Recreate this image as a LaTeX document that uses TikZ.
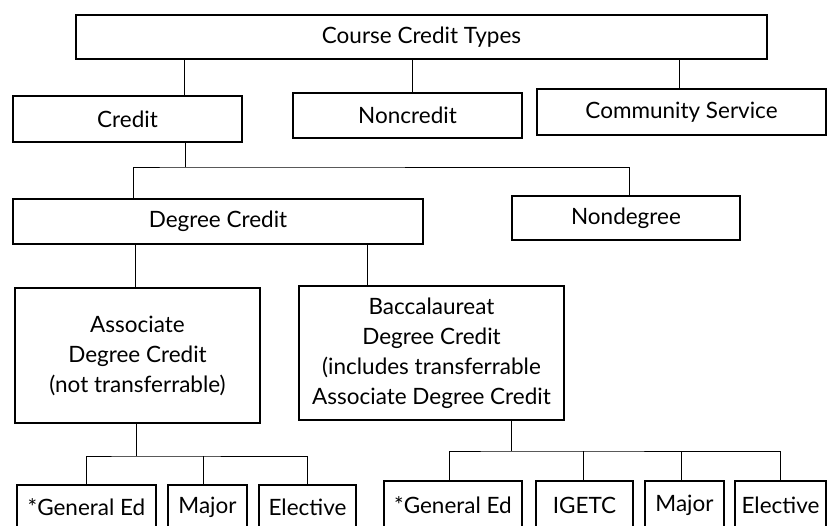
\documentclass[tikz,border=0pt]{standalone}
\usepackage{fontspec}
\setmainfont{Lato}
\begin{document}
\begin{tikzpicture}[x=1pt,y=-1pt,
  box/.style={draw, line width=1.5pt, inner sep=0pt, align=center,
    font=\fontsize{22.5}{30}\selectfont},
  link/.style={line width=0.9pt}]
\useasboundingbox (0,0) rectangle (828,526);
\clip (0,0) rectangle (828,526);
% level 0
\node[box, minimum width=691pt, minimum height=44pt] (top) at (421.5,37) {Course Credit Types};
% level 1
\node[box, minimum width=229pt, minimum height=46pt] (credit) at (127.5,119) {Credit};
\node[box, minimum width=229pt, minimum height=45pt] (noncredit) at (407.5,115.5) {Noncredit};
\node[box, minimum width=289pt, minimum height=46pt] (community) at (681.5,112) {Community Service};
% level 2
\node[box, minimum width=410pt, minimum height=45pt] (degree) at (218,221.5) {Degree Credit};
\node[box, minimum width=228pt, minimum height=44pt] (nondegree) at (626,218) {Nondegree};
% level 3
\node[box, minimum width=245pt, minimum height=135pt] (assoc) at (137.5,355.5)
  {Associate\\Degree Credit\\(not transferrable)};
\node[box, minimum width=265pt, minimum height=134pt] (bacc) at (431.5,353)
  {Baccalaureat\\Degree Credit\\(includes transferrable\\Associate Degree Credit};
% level 4 left
\node[box, minimum width=139pt, minimum height=45pt] (genA) at (86.5,507.5) {*General Ed};
\node[box, minimum width=79pt, minimum height=45pt] (majA) at (207.5,507.5) {Major};
\node[box, minimum width=97pt, minimum height=45pt] (elecA) at (307.5,507.5) {Elective};
% level 4 right
\node[box, minimum width=138pt, minimum height=48pt] (genB) at (453,505) {*General Ed};
\node[box, minimum width=97pt, minimum height=48pt] (igetc) at (584.5,505) {IGETC};
\node[box, minimum width=79pt, minimum height=48pt] (majB) at (684.5,505) {Major};
\node[box, minimum width=91pt, minimum height=48pt] (elecB) at (780.5,505) {Elective};
% junctions
\coordinate (j1) at (185,167);
\coordinate (j2) at (136,456);
\coordinate (j3) at (511,451);
% connectors level 0 -> 1
\draw[link] ([xshift=56.5pt]credit.north) -- ([xshift=56.5pt]credit.north |- top.south);
\draw[link] ([xshift=4.5pt]noncredit.north) -- ([xshift=4.5pt]noncredit.north |- top.south);
\draw[link] ([xshift=-2.5pt]community.north) -- ([xshift=-2.5pt]community.north |- top.south);
% credit -> degree / nondegree
\draw[link] ([xshift=57.5pt]credit.south) -- (j1);
\draw[link] ([xshift=-85pt]degree.north) |- (j1) -| ([xshift=3pt]nondegree.north);
% degree -> assoc / bacc
\draw[link] ([xshift=-2.5pt]assoc.north) -- ([xshift=-2.5pt]assoc.north |- degree.south);
\draw[link] ([xshift=-64.5pt]bacc.north) -- ([xshift=-64.5pt]bacc.north |- degree.south);
% assoc -> left group
\draw[link] ([xshift=-1.5pt]assoc.south) -- (j2);
\draw[link] (genA.north) |- (j2) -| (elecA.north);
\draw[link] ([xshift=-4.5pt]majA.north) -- ([xshift=-4.5pt]majA.north |- j2);
% bacc -> right group
\draw[link] ([xshift=79.5pt]bacc.south) -- (j3);
\draw[link] ([xshift=-4pt]genB.north) |- (j3) -| (elecB.north);
\draw[link] ([xshift=-1.5pt]igetc.north) -- ([xshift=-1.5pt]igetc.north |- j3);
\draw[link] ([xshift=-3.5pt]majB.north) -- ([xshift=-3.5pt]majB.north |- j3);
\end{tikzpicture}
\end{document}
